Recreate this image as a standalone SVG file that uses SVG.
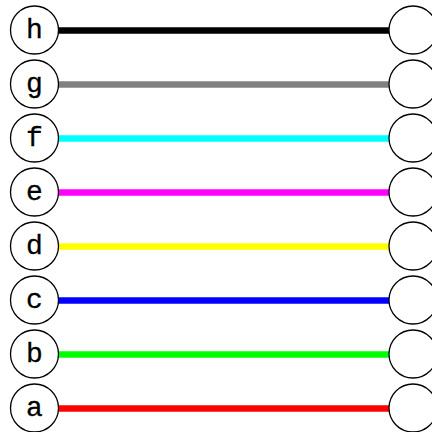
<svg xmlns="http://www.w3.org/2000/svg" width="432" height="432" viewBox="0 0 432 432">
<style>
.n{fill:#fff;stroke:#000;stroke-width:1.3}
.t{font-family:"Liberation Mono",monospace;font-size:28px;text-anchor:middle;dominant-baseline:central;fill:#000;stroke:#000;stroke-width:0.3}
.e{stroke-width:6.5;fill:none}
</style>
<rect width="432" height="432" fill="#fff"/>
<g id="connectors">
<line class="e" x1="58" y1="30.5" x2="389" y2="30.5" stroke="#000"/>
<line class="e" x1="58" y1="84.5" x2="389" y2="84.5" stroke="#808080"/>
<line class="e" x1="58" y1="138.5" x2="389" y2="138.5" stroke="#0ff"/>
<line class="e" x1="58" y1="192.5" x2="389" y2="192.5" stroke="#f0f"/>
<line class="e" x1="58" y1="246.5" x2="389" y2="246.5" stroke="#ff0"/>
<line class="e" x1="58" y1="300.5" x2="389" y2="300.5" stroke="#00f"/>
<line class="e" x1="58" y1="354.5" x2="389" y2="354.5" stroke="#0f0"/>
<line class="e" x1="58" y1="408.5" x2="389" y2="408.5" stroke="#f00"/>
</g>
<g id="h"><circle class="n" cx="34.5" cy="30" r="24"/><text class="t" x="34.5" y="30">h</text></g>
<g id="g"><circle class="n" cx="34.5" cy="84" r="24"/><text class="t" x="34.5" y="84">g</text></g>
<g id="f"><circle class="n" cx="34.5" cy="138" r="24"/><text class="t" x="34.5" y="138">f</text></g>
<g id="e"><circle class="n" cx="34.5" cy="192" r="24"/><text class="t" x="34.5" y="192">e</text></g>
<g id="d"><circle class="n" cx="34.5" cy="246" r="24"/><text class="t" x="34.5" y="246">d</text></g>
<g id="c"><circle class="n" cx="34.5" cy="300" r="24"/><text class="t" x="34.5" y="300">c</text></g>
<g id="b"><circle class="n" cx="34.5" cy="354" r="24"/><text class="t" x="34.5" y="354">b</text></g>
<g id="a"><circle class="n" cx="34.5" cy="408" r="24"/><text class="t" x="34.5" y="408">a</text></g>
<g id="h2"><circle class="n" cx="413" cy="30" r="24"/></g>
<g id="g2"><circle class="n" cx="413" cy="84" r="24"/></g>
<g id="f2"><circle class="n" cx="413" cy="138" r="24"/></g>
<g id="e2"><circle class="n" cx="413" cy="192" r="24"/></g>
<g id="d2"><circle class="n" cx="413" cy="246" r="24"/></g>
<g id="c2"><circle class="n" cx="413" cy="300" r="24"/></g>
<g id="b2"><circle class="n" cx="413" cy="354" r="24"/></g>
<g id="a2"><circle class="n" cx="413" cy="408" r="24"/></g>
</svg>
